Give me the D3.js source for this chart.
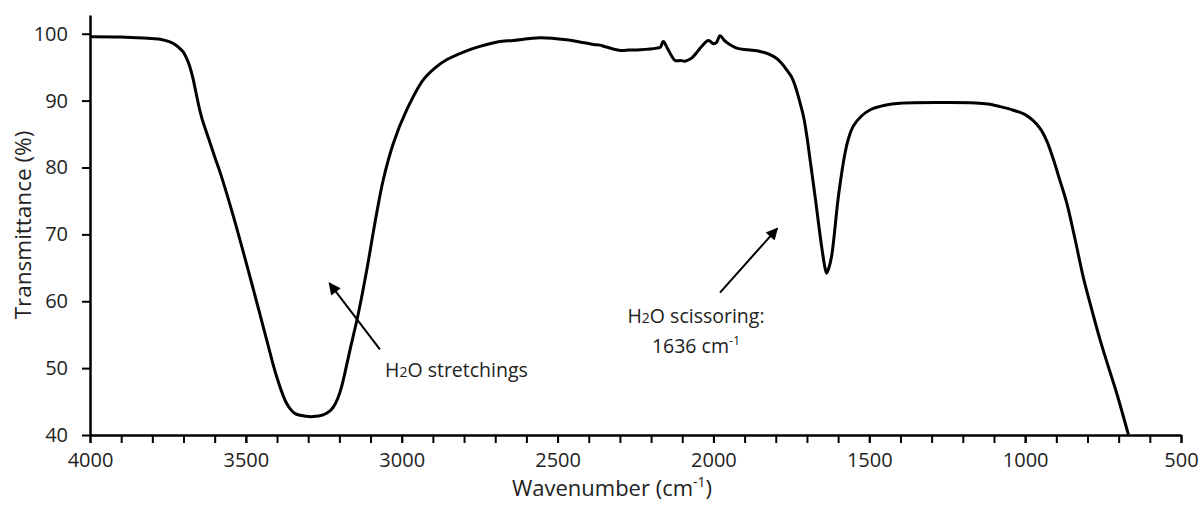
<!DOCTYPE html>
<html>
<head>
<meta charset="utf-8">
<script src="https://cdn.jsdelivr.net/npm/d3@7"></script>
<style>
  html, body { margin: 0; padding: 0; background: #fff; }
  svg { display: block; font-family: "Open Sans", "Noto Sans", sans-serif; }
</style>
</head>
<body>
<svg id="chart" width="1200" height="505"></svg>
<script>
// ---- data ----
const wavenumbers = [4000,3900,3829,3780,3760,3740,3725,3712,3700,3690,3680,3670,3660,3650,3640,3620,3600,3580,3540,3487,3433,3401,3369,3345,3326,3284,3252,3230,3219,3205,3193,3166,3139,3112,3086,3059,3027,2984,2931,2890,2856,2800,2749,2690,2642,2556,2471,2420,2385,2364,2350,2300,2270,2235,2182,2170,2161,2145,2123,2105,2091,2070,2050,2038,2016,2000,1990,1979,1965,1957,1925,1890,1850,1820,1797,1780,1765,1750,1740,1730,1720,1710,1700,1690,1674,1653,1642,1637,1631,1621,1599,1578,1565,1551,1525,1498,1450,1401,1262,1160,1120,1080,1040,1000,974,950,930,910,890,866,840,813,786,760,733,706,669];
const transmittance = [99.55,99.5,99.35,99.2,99.0,98.7,98.3,97.8,97.2,96.3,95.1,93.4,91.2,89.0,87.2,84.4,81.6,78.9,72.7,63.7,54.2,48.7,44.7,43.3,42.95,42.75,43.0,43.6,44.2,45.5,47.2,52.7,58.2,64.7,71.7,78.2,83.6,88.6,93.1,95.0,96.1,97.3,98.1,98.8,99.0,99.4,99.1,98.7,98.4,98.3,98.1,97.5,97.55,97.6,97.85,98.0,98.85,97.6,96.0,96.0,95.9,96.35,97.4,98.1,99.0,98.5,98.7,99.7,99.0,98.7,97.85,97.6,97.35,96.9,96.3,95.5,94.6,93.6,92.5,91.0,89.3,87.4,84.6,81.2,75.7,68.2,65.0,64.2,64.8,66.7,75.7,82.1,84.6,86.2,87.7,88.6,89.3,89.6,89.7,89.65,89.5,89.1,88.6,87.9,87.0,85.7,83.9,81.3,78.3,74.6,69.3,63.5,58.7,54.3,50.2,46.2,40.1];
const xMajorTicks = [4000,3500,3000,2500,2000,1500,1000,500];
const xMinorTicks = d3.range(4000, 499, -100);
const yTicks = [40,50,60,70,80,90,100];
// annotation arrows: [tail wavenumber, tail T, head wavenumber, head T]
const arrows = [
  [3070, 52.8, 3232, 62.7],
  [1979, 61.3, 1795, 70.9]
];

// ---- layout ----
const svg = d3.select("#chart");
const x = d3.scaleLinear().domain([4000, 500]).range([90, 1181]);
const y = d3.scaleLinear().domain([40, 102.8]).range([435, 15]);

const data = wavenumbers.map((w, i) => ({ w, t: transmittance[i] }));

const defs = svg.append("defs");
defs.append("clipPath").attr("id", "clip")
  .append("rect").attr("x", 90).attr("y", 0).attr("width", 1100).attr("height", 435);
defs.append("marker").attr("id", "arrow")
  .attr("viewBox", "0 0 10 10").attr("refX", 9).attr("refY", 5)
  .attr("markerWidth", 7).attr("markerHeight", 6).attr("orient", "auto")
  .attr("markerUnits", "strokeWidth")
  .append("path").attr("d", "M0,0 L10,5 L0,10 z").attr("fill", "#000");

// spectrum line
const line = d3.line().x(d => x(d.w)).y(d => y(d.t)).curve(d3.curveCatmullRom.alpha(0.5));
svg.append("path").datum(data)
  .attr("clip-path", "url(#clip)")
  .attr("fill", "none").attr("stroke", "#000").attr("stroke-width", 3)
  .attr("stroke-linejoin", "round")
  .attr("d", line);

// x axis: minor ticks
svg.append("g").attr("transform", "translate(0,435)")
  .call(d3.axisBottom(x).tickValues(xMinorTicks).tickSize(8).tickFormat(""))
  .call(g => g.select(".domain").remove())
  .call(g => g.selectAll("line").attr("stroke", "#000").attr("stroke-width", 2));
// x axis: major ticks + labels
svg.append("g").attr("transform", "translate(0,435)")
  .call(d3.axisBottom(x).tickValues(xMajorTicks).tickSize(8).tickSizeOuter(0).tickPadding(10).tickFormat(d3.format("d")))
  .call(g => g.select(".domain").attr("stroke", "#000").attr("stroke-width", 2.5))
  .call(g => g.selectAll("line").attr("stroke", "#000").attr("stroke-width", 2))
  .call(g => g.selectAll("text").attr("font-size", 20).attr("fill", "#222").attr("font-family", "Open Sans"));

// y axis
svg.append("g").attr("transform", "translate(90,0)")
  .call(d3.axisLeft(y).tickValues(yTicks).tickSize(8).tickSizeOuter(0).tickPadding(14))
  .call(g => g.select(".domain").attr("stroke", "#000").attr("stroke-width", 2.5))
  .call(g => g.selectAll("line").attr("stroke", "#000").attr("stroke-width", 2))
  .call(g => g.selectAll("text").attr("font-size", 20).attr("fill", "#222").attr("font-family", "Open Sans"));

// axis titles
const xt = svg.append("text").attr("x", 612).attr("y", 496).attr("text-anchor", "middle")
  .attr("font-size", 22).attr("fill", "#222");
xt.append("tspan").text("Wavenumber (cm");
xt.append("tspan").attr("font-size", 14).attr("dy", -9).text("-1");
xt.append("tspan").attr("dy", 9).text(")");

svg.append("text").attr("transform", "translate(31,225) rotate(-90)")
  .attr("text-anchor", "middle").attr("font-size", 22.5).attr("fill", "#222")
  .text("Transmittance (%)");

// arrows
arrows.forEach(a => {
  svg.append("line").attr("x1", x(a[0])).attr("y1", y(a[1])).attr("x2", x(a[2])).attr("y2", y(a[3]))
    .attr("stroke", "#000").attr("stroke-width", 2).attr("marker-end", "url(#arrow)");
});

// annotation texts
const t1 = svg.append("text").attr("x", 385).attr("y", 377).attr("font-size", 19.5).attr("fill", "#222");
t1.append("tspan").text("H");
t1.append("tspan").attr("font-size", 14).text("2");
t1.append("tspan").text("O stretchings");

const t2 = svg.append("text").attr("x", 696).attr("y", 323).attr("text-anchor", "middle").attr("font-size", 19.5).attr("fill", "#222");
t2.append("tspan").text("H");
t2.append("tspan").attr("font-size", 14).text("2");
t2.append("tspan").text("O scissoring:");
const t3 = svg.append("text").attr("x", 696).attr("y", 353).attr("text-anchor", "middle").attr("font-size", 19.5).attr("fill", "#222");
t3.append("tspan").text("1636 cm");
t3.append("tspan").attr("font-size", 12.5).attr("dy", -8).text("-1");
</script>
</body>
</html>
